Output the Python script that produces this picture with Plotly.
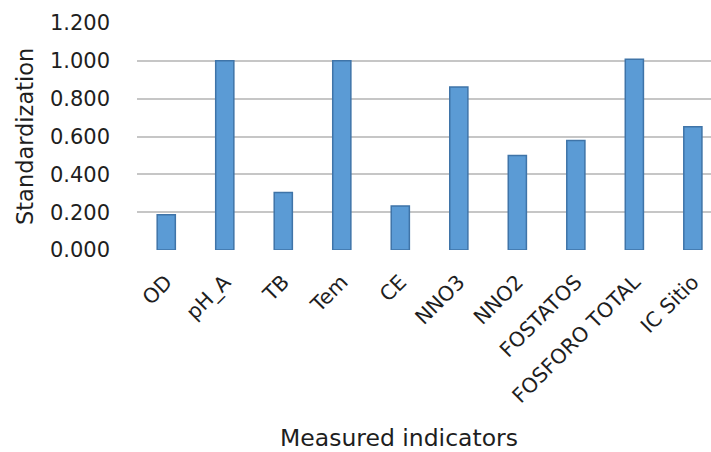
import plotly.graph_objects as go

# Standardized value of each measured indicator
indicators = ["OD", "pH_A", "TB", "Tem", "CE", "NNO3", "NNO2",
              "FOSTATOS", "FOSFORO TOTAL", "IC Sitio"]
standardized = [0.187, 1.000, 0.304, 1.000, 0.233, 0.862, 0.499,
                0.579, 1.009, 0.651]
y_ticks = [0.0, 0.2, 0.4, 0.6, 0.8, 1.0, 1.2]

FONT = "DejaVu Sans"
TEXT = "#1e1e1e"

PLOT_L, PLOT_R, PLOT_T, PLOT_B = 137, 711, 23, 250
PW, PH = PLOT_R - PLOT_L, PLOT_B - PLOT_T

fig = go.Figure(
    go.Bar(
        x=list(range(len(indicators))),
        y=standardized,
        width=0.31,
        marker=dict(color="#5B9BD5", line=dict(color="#3F74A8", width=1.5)),
    )
)

fig.update_layout(
    width=711,
    height=452,
    margin=dict(l=PLOT_L, r=711 - PLOT_R, t=PLOT_T, b=452 - PLOT_B),
    paper_bgcolor="white",
    plot_bgcolor="white",
    showlegend=False,
    font=dict(family=FONT, size=20, color=TEXT),
    xaxis=dict(
        range=[-0.5, 9.31],
        tickmode="array",
        tickvals=list(range(len(indicators))),
        ticktext=indicators,
        tickangle=-45,
        showgrid=False,
        zeroline=False,
        showline=False,
        ticks="",
        ticklabelstandoff=15,
        tickfont=dict(family=FONT, size=20.5, color=TEXT),
    ),
    yaxis=dict(
        range=[0, 1.2],
        tickmode="array",
        tickvals=y_ticks,
        ticktext=[f"{v:.3f}" for v in y_ticks],
        showgrid=True,
        gridcolor="#c6c6c6",
        gridwidth=2,
        zeroline=False,
        showline=False,
        ticks="",
        ticklabelstandoff=26,
        tickfont=dict(family=FONT, size=21, color=TEXT),
    ),
    annotations=[
        dict(
            text="Standardization",
            xref="paper", yref="paper",
            x=(25 - PLOT_L) / PW, y=(PLOT_B - 137) / PH,
            xanchor="center", yanchor="middle",
            textangle=-90, showarrow=False,
            font=dict(family=FONT, size=22.5, color=TEXT),
        ),
        dict(
            text="Measured indicators",
            xref="paper", yref="paper",
            x=(399 - PLOT_L) / PW, y=-(438 - PLOT_B) / PH,
            xanchor="center", yanchor="middle",
            showarrow=False,
            font=dict(family=FONT, size=23.5, color=TEXT),
        ),
    ],
)

fig.write_html("out.html")
